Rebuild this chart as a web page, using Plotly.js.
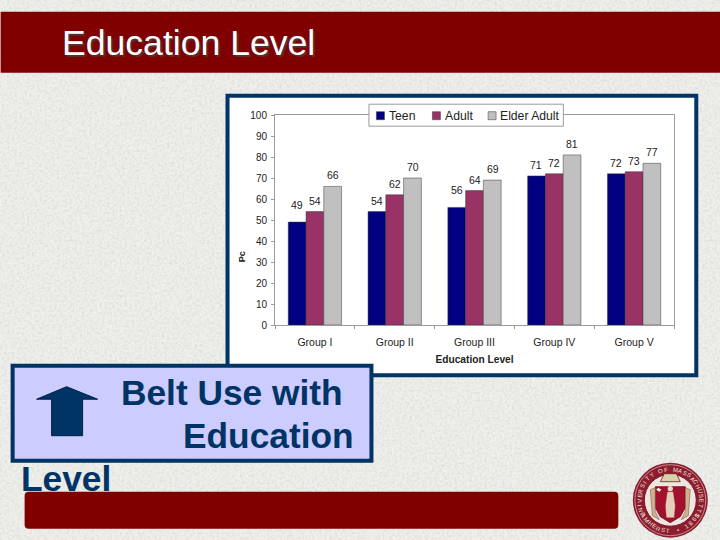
<!DOCTYPE html>
<html>
<head>
<meta charset="utf-8">
<script src="https://cdn.plot.ly/plotly-3.0.1.min.js"></script>
<style>
html,body{margin:0;padding:0;width:720px;height:540px;overflow:hidden;background-color:#e9e9e6;}
#texture{position:absolute;left:0;top:0;width:720px;height:540px;}
#chart{position:absolute;left:0;top:0;width:720px;height:540px;}
</style>
</head>
<body>
<svg id="texture" xmlns="http://www.w3.org/2000/svg" width="720" height="540">
  <filter id="n" x="0" y="0" width="100%" height="100%">
    <feTurbulence type="fractalNoise" baseFrequency="0.4" numOctaves="4" seed="4"/>
    <feColorMatrix type="matrix" values="0 0 0 0 0.55  0 0 0 0 0.55  0 0 0 0 0.52  0.8 0 0 0 -0.3"/>
  </filter>
  <rect width="720" height="540" fill="#efefec"/>
  <rect width="720" height="540" filter="url(#n)"/>
</svg>
<div id="chart"></div>
<script>
const categories = ["Group I", "Group II", "Group III", "Group IV", "Group V"];
const teen = [49, 54, 56, 71, 72];
const adult = [54, 62, 64, 72, 73];
const elderAdult = [66, 70, 69, 81, 77];
const seriesNames = ["Teen", "Adult", "Elder Adult"];
const yTickValues = [0, 10, 20, 30, 40, 50, 60, 70, 80, 90, 100];

const SANS = '"Liberation Sans", Arial, sans-serif';
const L = 274.5, R = 673.7, T = 115.3, B = 325.3;
const X = p => (p - L) / (R - L);
const Y = p => (B - p) / (B - T);

function rect(x0, y0, x1, y1, fill, line, lw, layer) {
  return {type: 'rect', xref: 'paper', yref: 'paper', x0: X(x0), x1: X(x1), y0: Y(y1), y1: Y(y0),
    fillcolor: fill, line: {color: line || fill, width: lw === undefined ? 0 : lw}, layer: layer || 'below'};
}
function circle(cx, cy, r, fill, line, lw) {
  return {type: 'circle', xref: 'paper', yref: 'paper', x0: X(cx - r), x1: X(cx + r), y0: Y(cy + r), y1: Y(cy - r),
    fillcolor: fill, line: {color: line || fill, width: lw || 0}, layer: 'above'};
}
function poly(pts, fill, line, lw) {
  const d = pts.map((p, i) => (i ? 'L' : 'M') + X(p[0]) + ',' + Y(p[1])).join(' ') + ' Z';
  return {type: 'path', xref: 'paper', yref: 'paper', path: d, fillcolor: fill, line: {color: line || fill, width: lw || 0}, layer: 'above'};
}
function label(text, x, y, size, color, bold, anchor) {
  return {xref: 'paper', yref: 'paper', x: X(x), y: Y(y), text: bold ? '<b>' + text + '</b>' : text, showarrow: false,
    xanchor: anchor || 'left', yanchor: 'middle', font: {family: SANS, size: size, color: color}};
}

const MAROON = '#800000', NAVY = '#003366';
const cx = 670, cy = 500.5;
const axisLine = '#9a9a9a';
const colors = ['#000080', '#993366', '#C0C0C0'];

// hand-placed legend, the reference's box is narrower than a native one can be
const legendSwatchX = [376, 432, 487.7];
const legendTextX = [387, 442.5, 497.5];

const shapes = [
  rect(0, 12, 720, 73, MAROON),
  rect(227, 96, 696, 375.5, '#ffffff', NAVY, 4),
  {type: 'path', xref: 'paper', yref: 'paper', layer: 'below', fillcolor: MAROON, line: {width: 0},
   path: `M${X(28)},${Y(492)} L${X(614)},${Y(492)} Q${X(618)},${Y(492)} ${X(618)},${Y(496)} L${X(618)},${Y(525)} Q${X(618)},${Y(529)} ${X(614)},${Y(529)} L${X(28)},${Y(529)} Q${X(24)},${Y(529)} ${X(24)},${Y(525)} L${X(24)},${Y(496)} Q${X(24)},${Y(492)} ${X(28)},${Y(492)} Z`},
  rect(368.5, 104.5, 563, 126.5, '#ffffff', axisLine, 1, 'above'),
  rect(12, 366, 371, 461, '#ccccff', NAVY, 4, 'above'),
  poly([[66, 387], [97, 399.5], [82, 399.5], [82, 436], [51, 436], [51, 399.5], [36, 399.5]], NAVY, '#001f44', 1),
  circle(cx, cy, 37.5, '#8c1c2e'),
  circle(cx, cy, 35.5, '#8c1c2e', '#e8d8d2', 0.6),
  circle(cx, cy, 26, '#efe6df', '#7a1526', 1),
  poly([[664, 474], [676, 474], [680, 482], [660, 482]], '#d8d2a8', '#7a1526', 0.8),
  poly([[655, 487], [685, 487], [685, 508], [680, 517], [670, 523], [660, 517], [655, 508]], '#a3112f', '#6d1020', 0.8),
  poly([[650, 490], [655, 488], [655, 512], [659, 520], [652, 516]], '#c9b48e', '#7a1526', 0.4),
  poly([[690, 490], [685, 488], [685, 512], [681, 520], [688, 516]], '#c9b48e', '#7a1526', 0.4),
  circle(670, 489, 2.6, '#e9d9c8'),
  poly([[667, 492], [673, 492], [675, 506], [674, 518], [666, 518], [665, 506]], '#e6cdbc', '#6d1020', 0.3),
  poly([[658, 488], [661, 490], [659, 492], [656, 490]], '#ffffff')
];
legendSwatchX.forEach((x, i) => shapes.push(rect(x, 112, x + 8, 120, colors[i], '#333333', 0.5, 'above')));

const annotations = [
  label('Belt Use with', 345, 393, 35.3, NAVY, true, 'right'),
  label('Education', 356, 436, 35.3, NAVY, true, 'right'),
  label('Level', 18, 479, 35.3, NAVY, true, 'left')
];
seriesNames.forEach((n, i) => annotations.push(label(n, legendTextX[i], 116, 12.2, '#222222', false, 'left')));
annotations.push(Object.assign(label('Pc', 241, 257, 9, '#222222', true, 'center'), {textangle: -90}));

// data labels, tied to the axes
const offsets = [-18, 0, 18];
[teen, adult, elderAdult].forEach((vals, s) => {
  vals.forEach((v, i) => {
    const lifted = (s === 0 && (i === 0 || i === 2));
    annotations.push({xref: 'x', yref: 'y', x: categories[i], y: v, text: String(v), showarrow: false,
      xshift: offsets[s], yshift: lifted ? 11 : 5, yanchor: 'bottom', xanchor: 'center', borderpad: 0, borderwidth: 0,
      font: {family: SANS, size: 10.5, color: '#222222'}});
  });
});

// seal lettering
function ring(text, start, step, radius) {
  [...text].forEach((ch, i) => {
    const deg = start + i * step, a = deg * Math.PI / 180;
    const upright = step > 0 ? deg : deg - 180;
    annotations.push({xref: 'paper', yref: 'paper', x: X(cx + radius * Math.sin(a)), y: Y(cy - radius * Math.cos(a)),
      text: ch, showarrow: false, textangle: upright, xanchor: 'center', yanchor: 'middle', borderpad: 0,
      font: {family: SANS, size: 6, color: '#f3e6dc'}});
  });
}
ring('UNIVERSITY OF MASSACHUSETTS', -118, 9.1, 31);
ring('AMHERST • 1863', 240, -9.3, 31);

const data = [teen, adult, elderAdult].map((vals, i) => ({
  type: 'bar', name: seriesNames[i], x: categories, y: vals,
  marker: {color: colors[i], line: {color: '#3a3a3a', width: 0.5}},
  hoverinfo: 'x+y+name'
}));

const layout = {
  width: 720, height: 540, autosize: false,
  margin: {l: L, r: 720 - R, t: T, b: 540 - B, pad: 0},
  paper_bgcolor: 'rgba(0,0,0,0)', plot_bgcolor: 'rgba(0,0,0,0)',
  font: {family: SANS, color: '#222222', size: 11},
  barmode: 'group', bargap: 0.332, bargroupgap: 0,
  title: {text: 'Education Level', x: 62 / 720, xanchor: 'left', xref: 'container', y: 1 - 43 / 540, yanchor: 'middle', yref: 'container',
    font: {family: SANS, size: 35.6, color: '#ffffff', shadow: '2px 2px 1px #55302f'}},
  xaxis: {type: 'category', categoryorder: 'array', categoryarray: categories, showgrid: false, zeroline: false,
    showline: true, linecolor: axisLine, linewidth: 1, mirror: true,
    ticks: 'outside', tickson: 'boundaries', ticklen: 3, tickcolor: axisLine, ticklabelstandoff: 7,
    tickfont: {size: 10.5, color: '#222222'},
    title: {text: '<b>Education Level</b>', font: {size: 10.2, color: '#222222'}, standoff: 9}},
  yaxis: {range: [0, 100], tickvals: yTickValues, showgrid: false, zeroline: false,
    showline: true, linecolor: axisLine, linewidth: 1, mirror: true,
    ticks: 'outside', ticklen: 3, tickcolor: axisLine, ticklabelstandoff: 2,
    tickfont: {size: 10, color: '#222222'}},
  shapes: shapes, annotations: annotations, showlegend: false
};
Plotly.newPlot('chart', data, layout, {displayModeBar: false, staticPlot: true});
</script>
</body>
</html>
